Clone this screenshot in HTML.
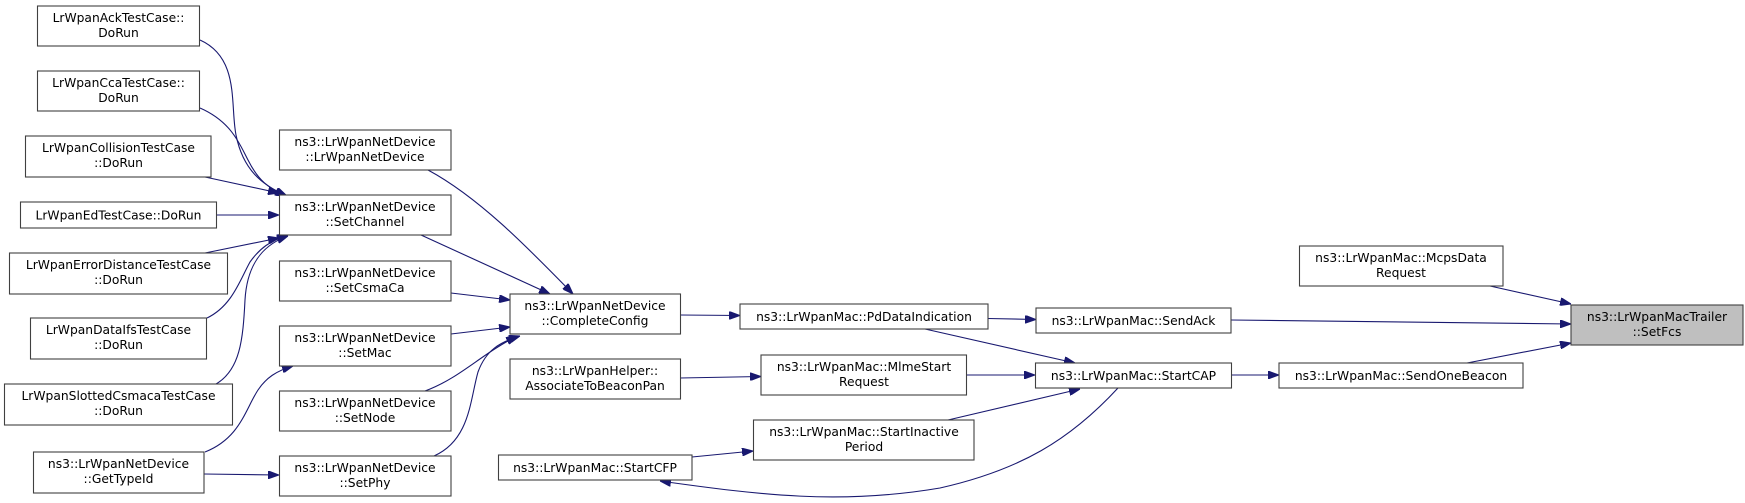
<!DOCTYPE html>
<html><head><meta charset="utf-8"><style>
html,body{margin:0;padding:0;background:#fff;}
svg{display:block;}
text{font-family:"DejaVu Sans","Liberation Sans",sans-serif;font-size:12.3px;fill:#000;text-anchor:middle;}
rect{fill:#fff;stroke:#404040;stroke-width:1.1;}
path.e{fill:none;stroke:#191970;stroke-width:1.1;marker-end:url(#a);}
</style></head><body>
<svg width="1745" height="503" viewBox="0 0 1745 503" xmlns="http://www.w3.org/2000/svg">
<defs><marker id="a" markerWidth="11" markerHeight="8" refX="11" refY="4" orient="auto" markerUnits="userSpaceOnUse"><path d="M0,0 L11,4 L0,8 z" fill="#191970" stroke="#191970"/></marker></defs>

<!-- edges -->
<path class="e" d="M200,40 C240,58 230,105 236,135 C243,170 262,185 287,196"/>
<path class="e" d="M200,108 C232,122 240,145 248,160 C258,180 268,188 286,196"/>
<path class="e" d="M205,177 L279,193"/>
<path class="e" d="M217,215 L279,215"/>
<path class="e" d="M205,253 L279,238"/>
<path class="e" d="M207,318 C232,306 240,280 250,262 C260,248 270,241 288,235"/>
<path class="e" d="M216,384 C240,370 243,340 245,300 C247,265 262,245 288,236"/>
<path class="e" d="M205,452 C240,438 245,410 258,390 C266,378 276,371 293,366"/>
<path class="e" d="M204,474 L279,475"/>
<path class="e" d="M428,170 C480,198 530,250 573,294"/>
<path class="e" d="M421,235 L550,294"/>
<path class="e" d="M451,293 L510,300"/>
<path class="e" d="M451,334 L510,327"/>
<path class="e" d="M425,391 C460,378 480,355 517,336"/>
<path class="e" d="M434,456 C470,440 470,400 478,372 C486,350 500,342 520,336"/>
<path class="e" d="M680,315 L740,315.5"/>
<path class="e" d="M988,318.5 L1036,319.5"/>
<path class="e" d="M925,329 L1075,363"/>
<path class="e" d="M680,378 L761,376.5"/>
<path class="e" d="M967,375 L1035,375"/>
<path class="e" d="M948,420 L1080,389"/>
<path class="e" d="M1118,388 C1070,440 1020,470 940,488 C840,505 760,495 660,481"/>
<path class="e" d="M692,457 L753,451"/>
<path class="e" d="M1231,375 L1279,375"/>
<path class="e" d="M1490,286 L1571,304"/>
<path class="e" d="M1231,320 L1571,324"/>
<path class="e" d="M1467,363 L1571,343"/>

<!-- nodes -->
<rect x="37.5" y="6" width="162" height="40"/><text x="118.5" y="22">LrWpanAckTestCase::</text><text x="118.5" y="37">DoRun</text>
<rect x="37.5" y="71" width="162" height="40"/><text x="118.5" y="87">LrWpanCcaTestCase::</text><text x="118.5" y="102">DoRun</text>
<rect x="25.5" y="136" width="185.5" height="41"/><text x="118.5" y="152">LrWpanCollisionTestCase</text><text x="118.5" y="167">::DoRun</text>
<rect x="20.5" y="202" width="196" height="26"/><text x="118.5" y="219.5">LrWpanEdTestCase::DoRun</text>
<rect x="9.5" y="253" width="218" height="41"/><text x="118.5" y="269">LrWpanErrorDistanceTestCase</text><text x="118.5" y="284">::DoRun</text>
<rect x="30.5" y="318" width="176" height="41"/><text x="118.5" y="334">LrWpanDataIfsTestCase</text><text x="118.5" y="349">::DoRun</text>
<rect x="4.5" y="384" width="228" height="41"/><text x="118.5" y="400">LrWpanSlottedCsmacaTestCase</text><text x="118.5" y="415">::DoRun</text>
<rect x="33.5" y="452" width="170.5" height="41"/><text x="118.5" y="468">ns3::LrWpanNetDevice</text><text x="118.5" y="483">::GetTypeId</text>

<rect x="279.5" y="130" width="171.5" height="40"/><text x="365" y="146">ns3::LrWpanNetDevice</text><text x="365" y="161">::LrWpanNetDevice</text>
<rect x="279.5" y="195" width="171.5" height="40"/><text x="365" y="211">ns3::LrWpanNetDevice</text><text x="365" y="226">::SetChannel</text>
<rect x="279.5" y="261" width="171.5" height="40"/><text x="365" y="277">ns3::LrWpanNetDevice</text><text x="365" y="292">::SetCsmaCa</text>
<rect x="279.5" y="326" width="171.5" height="40"/><text x="365" y="342">ns3::LrWpanNetDevice</text><text x="365" y="357">::SetMac</text>
<rect x="279.5" y="391" width="171.5" height="40"/><text x="365" y="407">ns3::LrWpanNetDevice</text><text x="365" y="422">::SetNode</text>
<rect x="279.5" y="456" width="171.5" height="40"/><text x="365" y="472">ns3::LrWpanNetDevice</text><text x="365" y="487">::SetPhy</text>

<rect x="510" y="294" width="170.5" height="40"/><text x="595" y="310">ns3::LrWpanNetDevice</text><text x="595" y="325">::CompleteConfig</text>
<rect x="510" y="359" width="170.5" height="40"/><text x="595" y="375">ns3::LrWpanHelper::</text><text x="595" y="390">AssociateToBeaconPan</text>
<rect x="498.5" y="455" width="193.5" height="25"/><text x="595" y="472">ns3::LrWpanMac::StartCFP</text>

<rect x="740" y="304" width="248" height="25"/><text x="864" y="321">ns3::LrWpanMac::PdDataIndication</text>
<rect x="761" y="355" width="205.5" height="40"/><text x="864" y="371">ns3::LrWpanMac::MlmeStart</text><text x="864" y="386">Request</text>
<rect x="753.5" y="420" width="220.5" height="40"/><text x="864" y="436">ns3::LrWpanMac::StartInactive</text><text x="864" y="451">Period</text>

<rect x="1036" y="308" width="195" height="25"/><text x="1133.5" y="325">ns3::LrWpanMac::SendAck</text>
<rect x="1035.5" y="363" width="196" height="25"/><text x="1133.5" y="380">ns3::LrWpanMac::StartCAP</text>

<rect x="1299.5" y="246" width="203.5" height="40"/><text x="1401" y="262">ns3::LrWpanMac::McpsData</text><text x="1401" y="277">Request</text>
<rect x="1279" y="363" width="244" height="25"/><text x="1401" y="380">ns3::LrWpanMac::SendOneBeacon</text>

<rect x="1571" y="305" width="172" height="40" style="fill:#bfbfbf"/><text x="1657" y="321">ns3::LrWpanMacTrailer</text><text x="1657" y="336">::SetFcs</text>
</svg>
</body></html>
